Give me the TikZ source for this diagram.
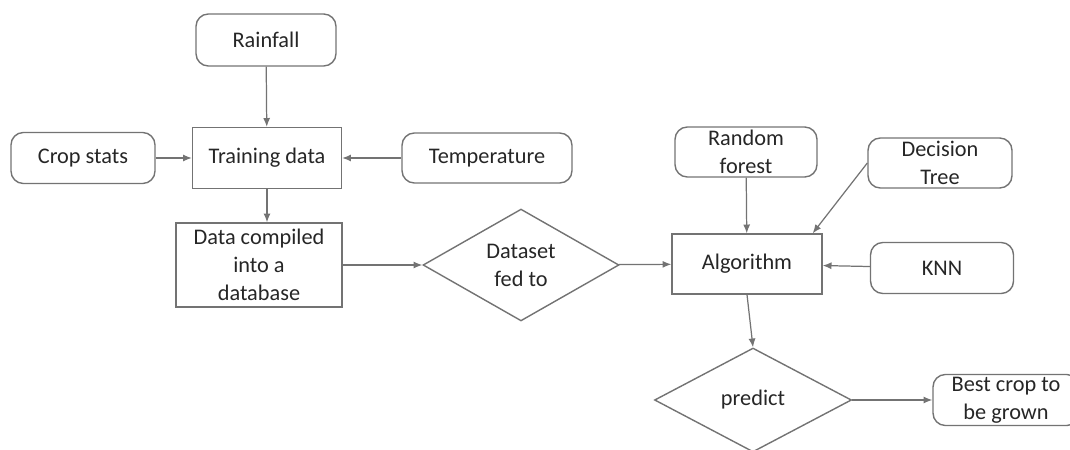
\documentclass[tikz,border=0pt]{standalone}
\usepackage{fontspec}
\setmainfont{Carlito}
\usetikzlibrary{shapes.geometric, arrows.meta}

\begin{document}
\begin{tikzpicture}[x=0.02cm, y=-0.02cm,
	font=\fontsize{12.7}{16}\selectfont,
	box/.style={draw=black!55, line width=0.8pt, text=black!85, align=center, inner sep=0pt},
	soft/.style={box, rounded corners=7pt},
	choice/.style={box, diamond},
	link/.style={->, draw=black!55, line width=0.7pt},
	>={Latex[length=5pt,width=4pt]}]
		
		\useasboundingbox (0,0) rectangle (1070,449);
		
		\node[soft, minimum width=2.8cm, minimum height=1.04cm] (rain) at (266,40) {Rainfall};
		\node[soft, minimum width=2.88cm, minimum height=1.02cm] (crop) at (83,158) {Crop stats};
		\node[box, minimum width=2.98cm, minimum height=1.22cm] (train) at (267,158) {Training data};
		\node[soft, minimum width=3.4cm, minimum height=1cm] (temp) at (487,158) {Temperature};
		\node[box, minimum width=3.32cm, minimum height=1.68cm] (db) at (259,265) {Data compiled\\into a\\database};
		\node[choice, minimum width=3.92cm, minimum height=2.08cm] (fed) at (521,265) {Dataset\\fed to};
		\node[soft, minimum width=2.84cm, minimum height=1cm] (rf) at (746,152) {Random\\forest};
		\node[soft, minimum width=2.88cm, minimum height=1cm] (dt) at (940,163) {Decision\\Tree};
		\node[box, minimum width=3cm, minimum height=1.2cm] (algo) at (747,264) {Algorithm};
		\node[soft, minimum width=2.86cm, minimum height=1.02cm] (knn) at (942,268) {KNN};
		\node[choice, minimum width=3.94cm, minimum height=2.08cm] (pred) at (753,400) {predict};
		\node[soft, minimum width=2.92cm, minimum height=1.02cm] (best) at (1006,400) {Best crop to\\be grown};
		
		\path
		(rain) edge[link] (train)
		(crop) edge[link] (train)
		(temp) edge[link] (train)
		(train.south) edge[link] (train.south |- db.north)
		(db) edge[link] (fed)
		(fed) edge[link] (algo)
		(rf) edge[link] (algo)
		(dt.west) edge[link] ([xshift=-0.2cm]algo.north east)
		(knn) edge[link] (algo)
		(algo.south) edge[link] (pred.north)
		(pred) edge[link] (best);
		\end{tikzpicture}
\end{document}
